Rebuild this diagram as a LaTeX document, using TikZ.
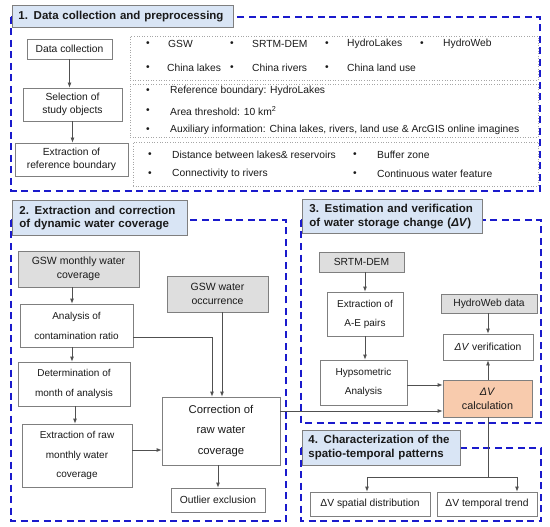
\documentclass[tikz,border=0pt]{standalone}
\usepackage{fontspec}
\setmainfont{Liberation Sans}
\usetikzlibrary{arrows.meta}
\definecolor{frameblue}{HTML}{1A1ACC}
\definecolor{titlefill}{HTML}{D9E5F5}
\definecolor{boxgray}{HTML}{7F7F7F}
\definecolor{grayfill}{HTML}{DEDEDE}
\definecolor{orangefill}{HTML}{F8CBAD}
\definecolor{linegray}{HTML}{505050}
\definecolor{txt}{HTML}{1A1A1A}
\tikzset{
  frame/.style={draw=frameblue, line width=1.8pt, dash pattern=on 7pt off 4.5pt},
  titlebox/.style={draw=boxgray, line width=0.8pt, fill=titlefill, inner sep=0pt, anchor=north west, text=txt},
  nbox/.style={draw=boxgray, line width=0.8pt, fill=white, inner sep=0pt, align=center, text=txt, font=\fontsize{10.3}{13}\selectfont},
  gbox/.style={nbox, fill=grayfill},
  obox/.style={nbox, fill=orangefill},
  dotbox/.style={draw=gray!70, line width=0.6pt, dotted, inner sep=0pt},
  btxt/.style={anchor=west, inner sep=0pt, text=txt, font=\fontsize{10.3}{12}\selectfont},
  arr/.style={draw=linegray, line width=0.8pt, -{Latex[length=5pt,width=4pt]}},
  ln/.style={draw=linegray, line width=0.8pt},
}
\newcommand{\dv}{\textit{ΔV}}
\begin{document}
\begin{tikzpicture}[x=1pt,y=-1pt]
\useasboundingbox (0,0) rectangle (550,527);
% frames
\draw[frame] (11,17) rectangle (540,191);
\draw[frame] (11,220) rectangle (286,521);
\draw[frame] (301,220) rectangle (541,423);
\draw[frame] (301,448) rectangle (541,521);
% titles
\node[titlebox, minimum width=221, minimum height=22, text width=209, align=left,
  font=\fontsize{11.5}{14}\selectfont\bfseries] (t1) at (12,5) {1. Data collection and preprocessing};
\node[titlebox, minimum width=175, minimum height=35, text width=161, align=left,
  font=\fontsize{11.5}{13.5}\selectfont\bfseries] (t2) at (12,200) {2. Extraction and correction\\of dynamic water coverage};
\node[titlebox, minimum width=180, minimum height=34, text width=166, align=left,
  font=\fontsize{11.5}{13.5}\selectfont\bfseries] (t3) at (302,199) {3. Estimation and verification\\of water storage change (\textit{ΔV})};
\node[titlebox, minimum width=158, minimum height=35, text width=146, align=left,
  font=\fontsize{11.5}{14}\selectfont\bfseries] (t4) at (302,430) {4. Characterization of the\\spatio-temporal patterns};
% section 1
\node[nbox, minimum width=85, minimum height=20] (dc) at (69.5,49) {Data collection};
\node[nbox, minimum width=99, minimum height=33] (sel) at (72.5,104.5) {Selection of\\study objects};
\node[nbox, minimum width=113, minimum height=33] (ext) at (71.5,159.5) {Extraction of\\reference boundary};
\draw[arr] (dc.south) -- (dc.south |- sel.north);
\draw[arr] (sel.south) -- (sel.south |- ext.north);
\node[dotbox, minimum width=408, minimum height=44] (d1) at (334,58) {};
\node[dotbox, minimum width=408, minimum height=53] (d2) at (334,110.5) {};
\node[dotbox, minimum width=405, minimum height=44] (d3) at (335.5,164) {};
% row 1
\node[btxt] (b1) at (146,44) {•}; \node[btxt] (g1) at (168,44) {GSW};
\node[btxt] (b2) at (230,44) {•}; \node[btxt] (g2) at (252,44) {SRTM-DEM};
\node[btxt] (b3) at (325,44) {•}; \node[btxt] (g3) at (347,44) {HydroLakes};
\node[btxt] (b4) at (420,44) {•}; \node[btxt] (g4) at (443,44) {HydroWeb};
% row 2
\node[btxt] (b5) at (146,68) {•}; \node[btxt] (g5) at (167,68) {China lakes};
\node[btxt] (b6) at (230,68) {•}; \node[btxt] (g6) at (252,68) {China rivers};
\node[btxt] (b7) at (325,68) {•}; \node[btxt] (g7) at (347,68) {China land use};
% rows 3-5
\node[btxt] (b8) at (146,91) {•}; \node[btxt] (g8) at (170,91) {Reference boundary: HydroLakes};
\node[btxt] (b9) at (146,111) {•}; \node[btxt] (g9) at (170,111) {Area threshold: 10 km\textsuperscript{2}};
\node[btxt] (b10) at (146,130) {•}; \node[btxt, text width=359, align=justify] (g10) at (170,130) {Auxiliary information: China lakes, rivers, land use \& ArcGIS online imagines};
% rows 6-7
\node[btxt] (b11) at (148,155) {•}; \node[btxt] (g11) at (172,155) {Distance between lakes\& reservoirs};
\node[btxt] (b12) at (353,155) {•}; \node[btxt] (g12) at (377,155) {Buffer zone};
\node[btxt] (b13) at (148,174) {•}; \node[btxt] (g13) at (172,174) {Connectivity to rivers};
\node[btxt] (b14) at (353,174) {•}; \node[btxt] (g14) at (377,174) {Continuous water feature};
% section 2
\node[gbox, minimum width=121, minimum height=36, font=\fontsize{10.5}{14}\selectfont] (gswm) at (78.5,269) {GSW monthly water\\coverage};
\node[gbox, minimum width=101, minimum height=36, font=\fontsize{10.5}{14}\selectfont] (gswo) at (217.5,294) {GSW water\\occurrence};
\node[nbox, minimum width=113, minimum height=43, font=\fontsize{10}{20}\selectfont] (ana) at (76.5,325.5) {Analysis of\\contamination ratio};
\node[nbox, minimum width=112, minimum height=44, font=\fontsize{10}{20}\selectfont] (det) at (74,384) {Determination of\\month of analysis};
\node[nbox, minimum width=110, minimum height=63, font=\fontsize{10}{19.5}\selectfont] (exr) at (77,455.5) {Extraction of raw\\monthly water\\coverage};
\node[nbox, minimum width=118, minimum height=68, font=\fontsize{11.3}{20.5}\selectfont] (cor) at (221,431) {Correction of\\raw water\\coverage};
\node[nbox, minimum width=94, minimum height=24] (out) at (218,500) {Outlier exclusion};
\draw[arr] ([xshift=-6.5pt]gswm.south) -- ([xshift=-6.5pt]gswm.south |- ana.north);
\draw[arr] ([xshift=-4.5pt]ana.south) -- ([xshift=-4.5pt]ana.south |- det.north);
\draw[arr] ([xshift=1pt]det.south) -- ([xshift=1pt]det.south |- exr.north);
\draw[arr] ([yshift=-11.5pt]ana.east) -| ([xshift=-9pt]cor.north);
\draw[arr] ([xshift=4.5pt]gswo.south) -- ([xshift=4.5pt]gswo.south |- cor.north);
\draw[arr] ([yshift=5.5pt]exr.east) -- ([yshift=5.5pt]exr.east -| cor.west);
\draw[arr] (cor.south -| out.north) -- (out.north);
% section 3
\node[gbox, minimum width=85, minimum height=20] (srtm) at (361.5,262) {SRTM-DEM};
\node[nbox, minimum width=76, minimum height=44, font=\fontsize{10}{19}\selectfont] (aep) at (365,314) {Extraction of\\A-E pairs};
\node[gbox, minimum width=96, minimum height=19] (hweb) at (489,303.5) {HydroWeb data};
\node[nbox, minimum width=90, minimum height=26] (ver) at (488,347) {\dv{} verification};
\node[nbox, minimum width=87, minimum height=45, font=\fontsize{10}{19}\selectfont] (hyp) at (363.5,382.5) {Hypsometric\\Analysis};
\node[obox, minimum width=89, minimum height=37, font=\fontsize{10.8}{14}\selectfont] (calc) at (487.5,398.5) {\dv\\calculation};
\draw[arr] ([xshift=3.5pt]srtm.south) -- ([xshift=3.5pt]srtm.south |- aep.north);
\draw[arr] (aep.south) -- (aep.south |- hyp.north);
\draw[arr] ([yshift=-2.5pt]hyp.east) -- ([yshift=-2.5pt]hyp.east -| calc.west);
\draw[arr] (hweb.south -| ver.north) -- (ver.north);
\draw[arr] (calc.north -| ver.south) -- (ver.south);
\draw[arr] ([yshift=20pt]cor.east) -- ([yshift=20pt]cor.east -| calc.west);
% section 4
\node[nbox, minimum width=120, minimum height=24] (sp) at (370,504) {ΔV spatial distribution};
\node[nbox, minimum width=100, minimum height=24] (tt) at (487,504) {ΔV temporal trend};
\coordinate (j) at (488,477);
\draw[ln] (calc.south -| j) -- (j);
\draw[arr] (j) -| ([xshift=-3pt]sp.north);
\draw[arr] (j) -| ([xshift=30pt]tt.north);
\end{tikzpicture}
\end{document}
